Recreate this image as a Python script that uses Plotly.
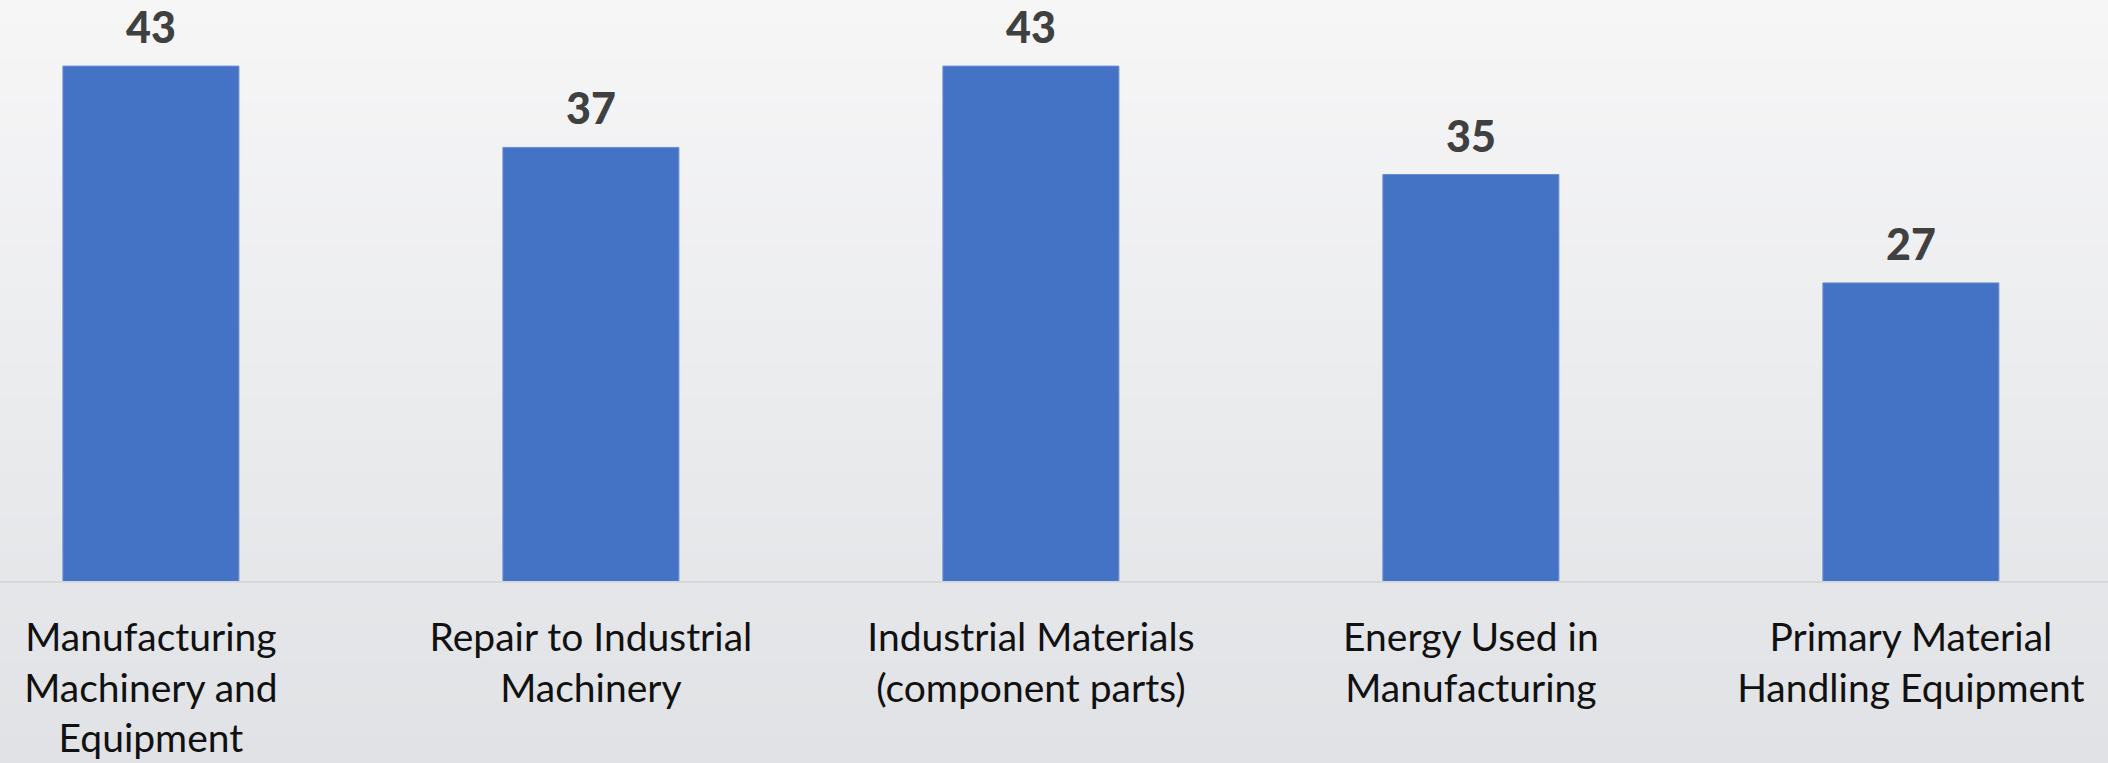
import plotly.graph_objects as go

# Survey results by purchase category
categories = [
    "Manufacturing<br>Machinery and<br>Equipment",
    "Repair to Industrial<br>Machinery",
    "Industrial Materials<br>(component parts)",
    "Energy Used in<br>Manufacturing",
    "Primary Material<br>Handling Equipment",
]
values = [43, 37, 43, 35, 27]

W, H = 2108, 763
MARGIN_B = 182
PLOT_H = H - MARGIN_B
TOP_COLOR = (246, 246, 247)
BOTTOM_COLOR = (224, 226, 229)


def blend(t):
    r, g, b = (round(a + (c - a) * t) for a, c in zip(TOP_COLOR, BOTTOM_COLOR))
    return f"rgb({r},{g},{b})"


# soft vertical gradient over the whole canvas (paper y runs below 0 into the margin)
y_low = -MARGIN_B / PLOT_H
n_bands = 90
bands = []
for i in range(n_bands):
    y1 = 1 - (1 - y_low) * i / n_bands
    y0 = 1 - (1 - y_low) * (i + 1) / n_bands
    bands.append(dict(
        type="rect", xref="paper", yref="paper",
        x0=-0.01, x1=1.01, y0=y0 - 0.002, y1=y1 + 0.002,
        fillcolor=blend(i / (n_bands - 1)), line_width=0, layer="below",
    ))

fig = go.Figure()
fig.add_trace(go.Bar(
    x=categories,
    y=values,
    marker=dict(color="#4472C4", line=dict(color="#6a8fd3", width=1)),
    width=0.4,
    hoverinfo="x+y",
))

annotations = [
    dict(
        x=c, y=v, xref="x", yref="y", text=str(v),
        showarrow=False, yanchor="bottom", yshift=12,
        font=dict(family="Lato", size=43, color="#404040", weight=900),
    )
    for c, v in zip(categories, values)
]

fig.update_layout(
    width=W, height=H,
    margin=dict(l=0, r=0, t=0, b=MARGIN_B, autoexpand=False),
    paper_bgcolor=blend(0),
    plot_bgcolor="rgba(0,0,0,0)",
    shapes=bands,
    annotations=annotations,
    showlegend=False,
    xaxis=dict(
        type="category",
        range=[-0.343, 4.448],
        automargin=False,
        showgrid=False,
        showline=True, linecolor="#d6d7d9", linewidth=2,
        ticks="", ticklabelstandoff=21,
        tickfont=dict(family="Lato", size=39, color="#111111"),
        fixedrange=True,
    ),
    yaxis=dict(
        range=[5, 5 + PLOT_H / 13.55],
        automargin=False,
        visible=False, showgrid=False, zeroline=False,
        fixedrange=True,
    ),
)

fig.write_html("out.html")
